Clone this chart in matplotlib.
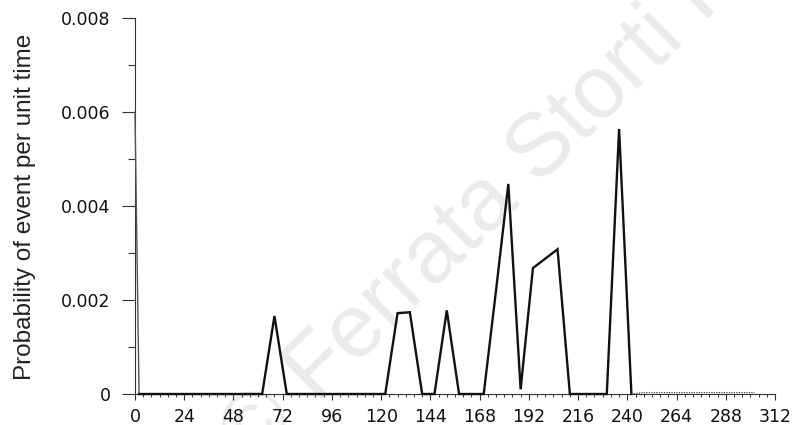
import matplotlib
matplotlib.use('Agg')
import matplotlib.pyplot as plt
from matplotlib.ticker import MultipleLocator, FixedLocator

# hours after start and the probability of event per unit time at each
hours = [0, 2, 8, 14, 20, 26, 32, 38, 44, 50, 56, 62, 68, 74, 80, 86, 92, 98,
         104, 110, 116, 122, 128, 134, 140, 146, 152, 158, 164, 170, 176, 182,
         188, 194, 200, 206, 212, 218, 224, 230, 236, 242]
prob = [0.006, 0, 0, 0, 0, 0, 0, 0, 0, 0, 0, 0, 0.00166, 0, 0, 0, 0, 0,
        0, 0, 0, 0, 0.00172, 0.00174, 0, 0, 0.00178, 0, 0, 0, 0.0022, 0.00447,
        0.0001, 0.00268, 0.00288, 0.00308, 0, 0, 0, 0, 0.00564, 0]
# faint tail after the last peak
tail_hours = [242, 248, 254, 260, 266, 272, 278, 284, 290, 296, 302]
tail_prob = [0, 0.00003, 0.00003, 0.00003, 0.00003, 0.00003, 0.00003,
             0.00003, 0.00003, 0.00003, 0.00003]

x_ticks = [0, 24, 48, 72, 96, 120, 144, 168, 192, 216, 240, 264, 288, 312]
y_ticks = [0, 0.002, 0.004, 0.006, 0.008]
y_labels = ['0', '0.002', '0.004', '0.006', '0.008']

fig = plt.figure(figsize=(7.93, 4.25), dpi=100)
ax = fig.add_axes([0.1702, 0.0729, 0.8071, 0.8847])

# watermark, behind everything
ax.text(0.318, -0.1, '\u00a9 Ferrata Storti Foundation', transform=fig.transFigure,
        fontsize=64, color='#ebebeb', rotation=44.5, rotation_mode='anchor',
        ha='left', va='baseline', family='Liberation Sans', zorder=0,
        clip_on=False)

# the drop at time zero runs along the axis and is faint in the original
ax.plot(hours[:2], prob[:2], color='#555555', lw=1.0, clip_on=False, zorder=3)
ax.plot(hours[1:], prob[1:], color='#111111', lw=1.7, solid_joinstyle='miter',
        clip_on=False, zorder=3)
ax.plot(tail_hours, tail_prob, color='#444444', lw=0.9, ls=(0, (1, 1)),
        clip_on=False, zorder=3)

ax.set_xlim(0, 312)
ax.set_ylim(0, 0.008)
ax.patch.set_alpha(0)
for s in ['top', 'right']:
    ax.spines[s].set_visible(False)
for s in ['left', 'bottom']:
    ax.spines[s].set_linewidth(0.8)
    ax.spines[s].set_color('#333333')

ax.xaxis.set_major_locator(FixedLocator(x_ticks))
ax.xaxis.set_minor_locator(MultipleLocator(4))
ax.set_yticks(y_ticks)
ax.set_yticklabels(y_labels)
ax.yaxis.set_minor_locator(MultipleLocator(0.001))

ax.tick_params(axis='x', which='major', direction='out', length=4.5, width=0.8,
               pad=5.5, labelsize=12.5, colors='#333333', labelcolor='#111111')
ax.tick_params(axis='x', which='minor', direction='out', length=2.2, width=0.7,
               colors='#333333')
ax.tick_params(axis='y', which='major', direction='out', length=9.5, width=0.8,
               pad=8, labelsize=12.5, colors='#333333', labelcolor='#111111')
ax.tick_params(axis='y', which='minor', direction='out', length=5, width=0.8,
               colors='#333333')
for lab in ax.get_xticklabels() + ax.get_yticklabels():
    lab.set_family('DejaVu Sans')

ax.set_ylabel('Probability of event per unit time', fontsize=17.5,
              family='Liberation Sans', color='#222222')
ax.yaxis.set_label_coords(-0.155, 0.497)

fig.savefig('out.png', dpi=100)
